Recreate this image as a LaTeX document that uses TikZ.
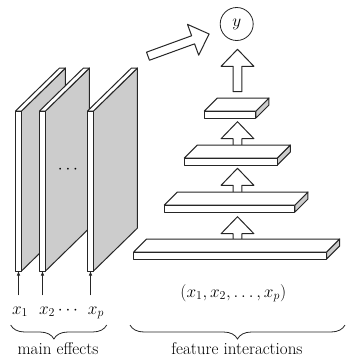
\documentclass[tikz,border=0pt]{standalone}
\usetikzlibrary{arrows.meta,decorations.pathreplacing}
\tikzset{
  outl/.style={draw=black!85, line width=1pt, line join=round},
  face/.style={outl, fill=white},
  shadeface/.style={outl, fill=black!20},
  lbl/.style={font=\fontsize{17}{20}\selectfont, inner sep=1pt},
  inarrow/.style={-{Latex[length=4.5pt,width=3.5pt]}, line width=0.7pt, draw=black!85},
  brc/.style={decorate, line width=0.8pt, draw=black!85},
  barrow/.pic={\draw[face] (0,-4.3) -- (#1-17,-4.3) -- (#1-17,-16.4) -- (#1,0)
      -- (#1-17,16.4) -- (#1-17,4.3) -- (0,4.3) -- cycle;},
}
\newcommand\plateat[2]{%
  \draw[shadeface] (#2+6,111) -- (#2+50,68) -- (#2+50,228) -- (#2+6,271) -- cycle;
  \draw[face] (#2,111) -- (#2+44,68) -- (#2+50,68) -- (#2+6,111) -- cycle;
  \draw[face] (#2,111) rectangle (#2+6,271);
  \coordinate (#1) at (#2+3,271);
}
\newcommand\slabat[3]{%
  \draw[shadeface] (#2,#3) -- (#2+13,#3-13) -- (#2+13,#3-6) -- (#2,#3+7) -- cycle;
  \draw[face] (#1,#3) -- (#1+13,#3-13) -- (#2+13,#3-13) -- (#2,#3) -- cycle;
  \draw[face] (#1,#3) rectangle (#2,#3+7);
}
\begin{document}
\begin{tikzpicture}[x=1pt,y=-1pt]
\useasboundingbox (0,0) rectangle (347,360);
% main effect plates
\plateat{p1}{15.5}
\plateat{p2}{39.5}
\plateat{p3}{87.5}
\node[lbl] (dd) at (68,170) {$\cdots$};
% inputs
\node[lbl, anchor=base] (x1) at (20,314) {$x_1$};
\node[lbl, anchor=base] (x2) at (47,314) {$x_2$};
\node[lbl, anchor=base] (xd) at (68,314) {$\cdots$};
\node[lbl, anchor=base] (xp) at (96,314) {$x_p$};
\draw[inarrow, shorten <=10pt] (x1.north -| p1) -- (p1);
\draw[inarrow, shorten <=10pt] (x2.north -| p2) -- (p2);
\draw[inarrow, shorten <=10pt] (x1.north -| p3) -- (p3);
% output
\node[lbl, circle, draw=black!85, line width=0.8pt, minimum size=33pt, inner sep=0pt] (y) at (236.7,24) {$y$};
\pic[rotate=20] at (148,56.2) {barrow=65};
% interaction slabs
\pic[rotate=90] at (237.5,91.7) {barrow=42.4};
\slabat{204.3}{256}{111}
\pic[rotate=90] at (237.5,150) {barrow=28.3};
\slabat{184.3}{277.3}{158}
\pic[rotate=90] at (237.5,198) {barrow=29.7};
\slabat{164.3}{295}{205}
\pic[rotate=90] at (237.5,245) {barrow=28.3};
\slabat{133.7}{326.7}{252}
\node[lbl] (xs) at (233.3,293) {$(x_1, x_2, \ldots, x_p)$};
% braces
\coordinate (b1l) at (10.7,325);
\coordinate (b1r) at (106.7,325);
\coordinate (b2l) at (130,325);
\coordinate (b2r) at (345,325);
\draw[brc, decoration={brace, mirror, amplitude=14pt, aspect=0.45}] (b1l) -- (b1r);
\draw[brc, decoration={brace, mirror, amplitude=14pt}] (b2l) -- (b2r);
\node[lbl] (me) at (58,349) {main effects};
\node[lbl] (fi) at (237,349) {feature interactions};
\end{tikzpicture}
\end{document}
